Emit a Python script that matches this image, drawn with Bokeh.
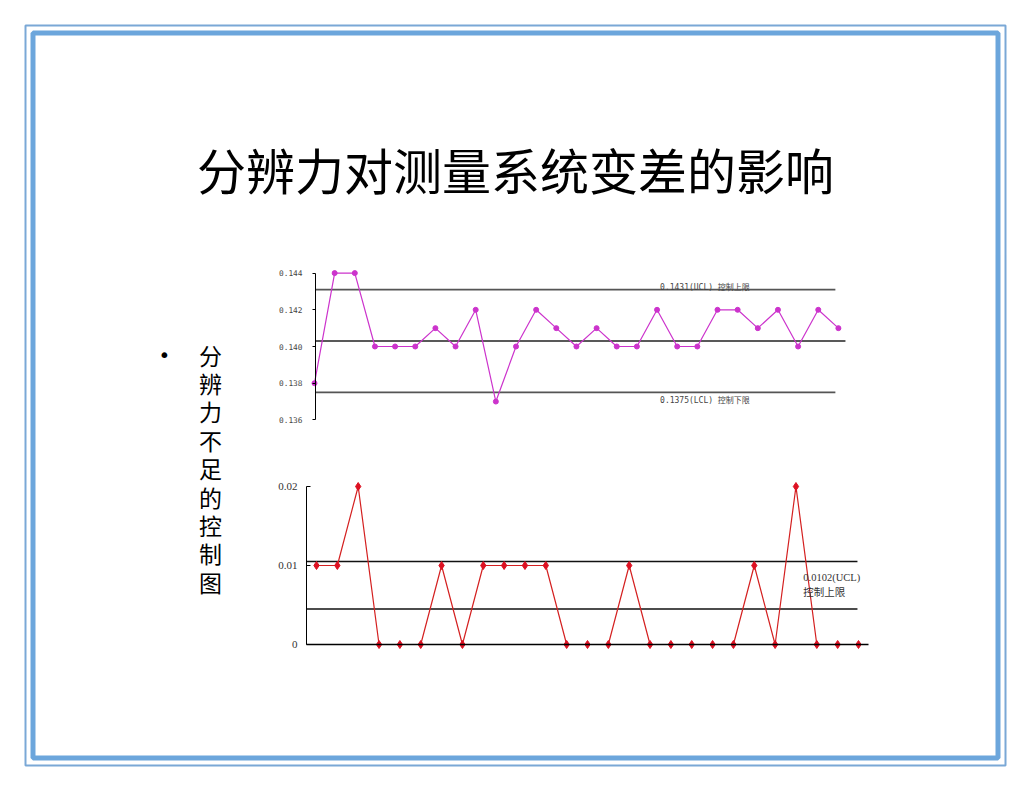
from bokeh.plotting import figure
from bokeh.models import Range1d, LinearAxis, FixedTicker, NumeralTickFormatter, ColumnDataSource
from bokeh.core.properties import value
from bokeh.embed import file_html
from bokeh.resources import INLINE

# ---------------- data ----------------
title_text = "分辨力对测量系统变差的影响"
side_text = "分辨力不足的控制图"

# X-bar chart (top)
xbar_values = [0.138, 0.144, 0.144, 0.140, 0.140, 0.140, 0.141, 0.140, 0.142, 0.137,
               0.140, 0.142, 0.141, 0.140, 0.141, 0.140, 0.140, 0.142, 0.140, 0.140,
               0.142, 0.142, 0.141, 0.142, 0.140, 0.142, 0.141]
xbar_ticks = [0.136, 0.138, 0.140, 0.142, 0.144]
xbar_ucl = 0.1431
xbar_cl = 0.1403
xbar_lcl = 0.1375
xbar_ucl_label = "0.1431(UCL) 控制上限"
xbar_lcl_label = "0.1375(LCL) 控制下限"

# Range chart (bottom)
range_values = [0.01, 0.01, 0.02, 0, 0, 0, 0.01, 0, 0.01, 0.01,
                0.01, 0.01, 0, 0, 0, 0.01, 0, 0, 0, 0,
                0, 0.01, 0, 0.02, 0, 0, 0]
range_ticks = [0, 0.01, 0.02]
range_tick_labels = {0: "0", 0.01: "0.01", 0.02: "0.02"}
range_ucl = 0.0105
range_cl = 0.0045
range_ucl_label = ["0.0102(UCL)", "控制上限"]

# ---------------- page canvas ----------------
W, H = 1014, 774
OFF = 0
p = figure(width=W, height=H, output_backend="svg", toolbar_location=None,
           x_axis_type=None, y_axis_type=None, min_border=0,
           x_range=Range1d(OFF, OFF + W), y_range=Range1d(OFF + H, OFF))
p.outline_line_color = None
p.background_fill_color = "white"
p.border_fill_color = "white"
p.grid.visible = False

# double blue frame
p.quad(left=[25], right=[1005], top=[25], bottom=[765], fill_alpha=0,
       line_color="#7aa8d6", line_width=2)
p.quad(left=[32.5], right=[997.5], top=[32.5], bottom=[757.5], fill_alpha=0,
       line_color="#6ca6dc", line_width=5)

# title
p.text(x=[515], y=[168], text=[title_text], text_align="center", text_baseline="middle",
       text_font=value("Noto Sans CJK SC"), text_font_size="49px", text_color="black")

# bullet + vertical text
p.text(x=[164], y=[354], text=["•"], text_align="center", text_baseline="middle",
       text_font=value("DejaVu Sans"), text_font_size="20px", text_color="black")
chars = list(side_text)
p.text(x=[210] * len(chars), y=[354 + 28.4 * k for k in range(len(chars))], text=chars,
       text_align="center", text_baseline="middle",
       text_font=value("Noto Sans CJK SC"), text_font_size="23px", text_color="black")

# ---------------- top chart (X-bar) ranges ----------------
tx0, tdx = 314.0, 20.15          # page x of index 0, px per index
ty0, tdy = 346.0, 18350.0         # page y of 0.140, px per unit
p.extra_x_ranges["tx"] = Range1d((OFF - tx0) / tdx, (OFF + W - tx0) / tdx)
p.extra_y_ranges["ty"] = Range1d(0.140 - (OFF + H - ty0) / tdy, 0.140 + (ty0 - OFF) / tdy)

n = len(xbar_values)
idx = list(range(n))
top_src = ColumnDataSource(dict(x=idx, y=xbar_values))

# limit lines
p.segment(x0=[0.05, 0.05, 0.05], x1=[25.85, 26.35, 25.85],
          y0=[xbar_ucl, xbar_cl, xbar_lcl], y1=[xbar_ucl, xbar_cl, xbar_lcl],
          line_color=["#555555", "#222222", "#555555"], line_width=1.6,
          x_range_name="tx", y_range_name="ty")
p.line("x", "y", source=top_src, line_color="#cc33cc", line_width=1.2,
       x_range_name="tx", y_range_name="ty")
p.scatter("x", "y", source=top_src, marker="circle", size=5, fill_color="#cc33cc",
          line_color="#cc33cc", x_range_name="tx", y_range_name="ty")

small_font = value("DejaVu Sans Mono, Noto Sans CJK SC")
p.text(x=[17.15], y=[xbar_ucl], text=[xbar_ucl_label], y_offset=-2,
       text_baseline="middle", text_font=small_font,
       text_font_size="8px", text_color="#444444",
       x_range_name="tx", y_range_name="ty")
p.text(x=[17.15], y=[xbar_lcl], text=[xbar_lcl_label], y_offset=8,
       text_baseline="middle", text_font=small_font,
       text_font_size="8px", text_color="#444444",
       x_range_name="tx", y_range_name="ty")

ax_top = LinearAxis(y_range_name="ty", fixed_location=315,
                    ticker=FixedTicker(ticks=xbar_ticks),
                    formatter=NumeralTickFormatter(format="0.000"),
                    bounds=(xbar_ticks[0], xbar_ticks[-1]))
ax_top.axis_line_color = "black"
ax_top.axis_line_width = 1
ax_top.major_tick_out = 3
ax_top.major_tick_in = 0
ax_top.minor_tick_out = 0
ax_top.minor_tick_in = 0
ax_top.major_label_standoff = 10
ax_top.major_label_text_font = "DejaVu Sans Mono"
ax_top.major_label_text_font_size = "7.8px"
ax_top.major_label_text_color = "#444444"
p.add_layout(ax_top, "left")

# ---------------- bottom chart (Range) ----------------
bx0, bdx = 316.0, 20.846
by0, bdy = 644.0, 7900.0
p.extra_x_ranges["bx"] = Range1d((OFF - bx0) / bdx, (OFF + W - bx0) / bdx)
p.extra_y_ranges["by"] = Range1d(-(OFF + H - by0) / bdy, (by0 - OFF) / bdy)

bot_src = ColumnDataSource(dict(x=list(range(len(range_values))), y=range_values))

p.segment(x0=[-0.48, -0.48], x1=[25.95, 25.95],
          y0=[range_ucl, range_cl], y1=[range_ucl, range_cl],
          line_color="#111111", line_width=1.4,
          x_range_name="bx", y_range_name="by")
p.line("x", "y", source=bot_src, line_color="#d42020", line_width=1.2,
       x_range_name="bx", y_range_name="by")
p.scatter("x", "y", source=bot_src, marker="diamond", size=8, fill_color="#dd1122",
          line_color="#dd1122", x_range_name="bx", y_range_name="by")

p.text(x=[23.35], y=[range_ucl], text=[range_ucl_label[0]], y_offset=16,
       text_baseline="middle", text_font=value("Liberation Serif"),
       text_font_size="10.5px", text_color="#333333",
       x_range_name="bx", y_range_name="by")
p.text(x=[23.35], y=[range_ucl], text=[range_ucl_label[1]], y_offset=30,
       text_baseline="middle", text_font=value("Noto Sans CJK SC"),
       text_font_size="10.5px", text_color="#333333",
       x_range_name="bx", y_range_name="by")

ax_bl = LinearAxis(y_range_name="by", fixed_location=306,
                   ticker=FixedTicker(ticks=range_ticks),
                   major_label_overrides=range_tick_labels,
                   bounds=(range_ticks[0], range_ticks[-1]))
ax_bl.axis_line_color = "black"
ax_bl.major_tick_out = 0
ax_bl.major_tick_in = 4
ax_bl.minor_tick_out = 0
ax_bl.minor_tick_in = 0
ax_bl.major_label_standoff = 9
ax_bl.major_label_text_font = "Liberation Serif"
ax_bl.major_label_text_font_size = "11px"
ax_bl.major_label_text_color = "#333333"
p.add_layout(ax_bl, "left")

ax_bb = LinearAxis(x_range_name="bx", y_range_name="by", fixed_location=0,
                   ticker=FixedTicker(ticks=[]), bounds=(-0.48, 26.48))
ax_bb.axis_line_color = "black"
ax_bb.axis_line_width = 1.4
ax_bb.major_tick_out = 0
ax_bb.major_tick_in = 0
ax_bb.minor_tick_out = 0
ax_bb.minor_tick_in = 0
ax_bb.major_label_text_font_size = "0px"
p.add_layout(ax_bb, "below")

open("out.html", "w").write(file_html(p, INLINE))
